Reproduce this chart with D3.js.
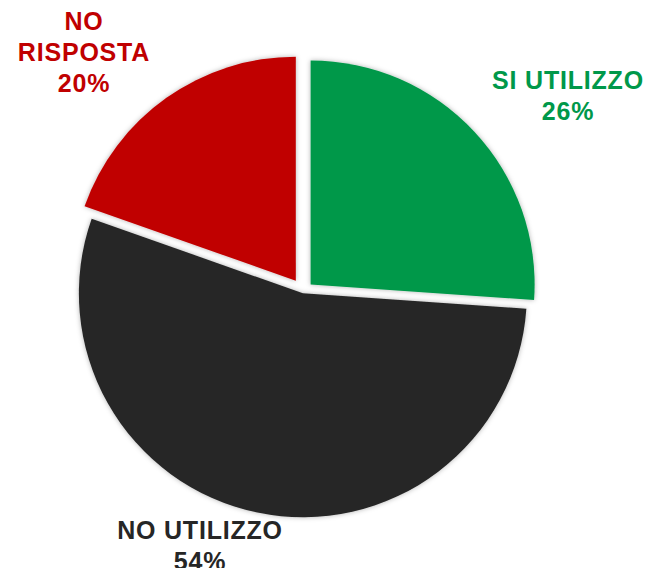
<!DOCTYPE html>
<html>
<head>
<meta charset="utf-8">
<script src="https://cdn.jsdelivr.net/npm/d3@7"></script>
<style>
  html, body { margin: 0; padding: 0; background: #fff; }
  svg { display: block; }
</style>
</head>
<body>
<div id="pie-chart"></div>
<script>
const categories = ["SI UTILIZZO", "NO UTILIZZO", "NO RISPOSTA"];
const values = [26.1, 54.3, 19.6];
const labelLines = [["SI UTILIZZO"], ["NO UTILIZZO"], ["NO", "RISPOSTA"]];
const colors = ["#00984A", "#262626", "#C00000"];

const width = 647;
const height = 568;
const center = { x: 303.3, y: 291.3 };
const radius = 224;
// how far each slice is pulled out of the pie
const explode = [10, 2, 13];
const lineGap = 31;

// label anchors: centre x and baseline of the last line
const labelPos = [
    { x: 568, y: 120 },
    { x: 200, y: 570 },
    { x: 84, y: 92 }
];

const slices = categories.map((name, i) => ({
    name,
    value: values[i],
    color: colors[i],
    explode: explode[i],
    lines: [...labelLines[i], `${Math.round(values[i])}%`],
    label: labelPos[i]
}));

const pie = d3.pie().value(d => d.value).sort(null);
const arc = d3.arc().innerRadius(0).outerRadius(radius);

const svg = d3.select("#pie-chart")
    .append("svg")
    .attr("width", width)
    .attr("height", height);

const defs = svg.append("defs");
const shadow = defs.append("filter")
    .attr("id", "soft-shadow")
    .attr("x", "-20%").attr("y", "-20%")
    .attr("width", "140%").attr("height", "140%");
shadow.append("feDropShadow")
    .attr("dx", 0)
    .attr("dy", 0)
    .attr("stdDeviation", 2.5)
    .attr("flood-color", "#000")
    .attr("flood-opacity", 0.3);

const group = svg.append("g")
    .attr("transform", `translate(${center.x}, ${center.y})`);

group.selectAll("path")
    .data(pie(slices))
    .join("path")
    .attr("transform", d => {
        const mid = (d.startAngle + d.endAngle) / 2;
        const k = d.data.explode;
        return `translate(${Math.sin(mid) * k}, ${-Math.cos(mid) * k})`;
    })
    .attr("d", arc)
    .attr("fill", d => d.data.color)
    .attr("filter", "url(#soft-shadow)");

const labels = svg.append("g")
    .selectAll("text")
    .data(slices)
    .join("text")
    .attr("text-anchor", "middle")
    .attr("fill", d => d.color)
    .style("font-family", "'Liberation Sans', Arial, sans-serif")
    .style("font-size", "25px")
    .style("font-weight", "bold")
    .style("letter-spacing", "0.8px");

labels.each(function (d) {
    const n = d.lines.length;
    d3.select(this).selectAll("tspan")
        .data(d.lines)
        .join("tspan")
        .attr("x", d.label.x)
        .attr("y", (line, i) => d.label.y - (n - 1 - i) * lineGap)
        .text(line => line);
});
</script>
</body>
</html>
